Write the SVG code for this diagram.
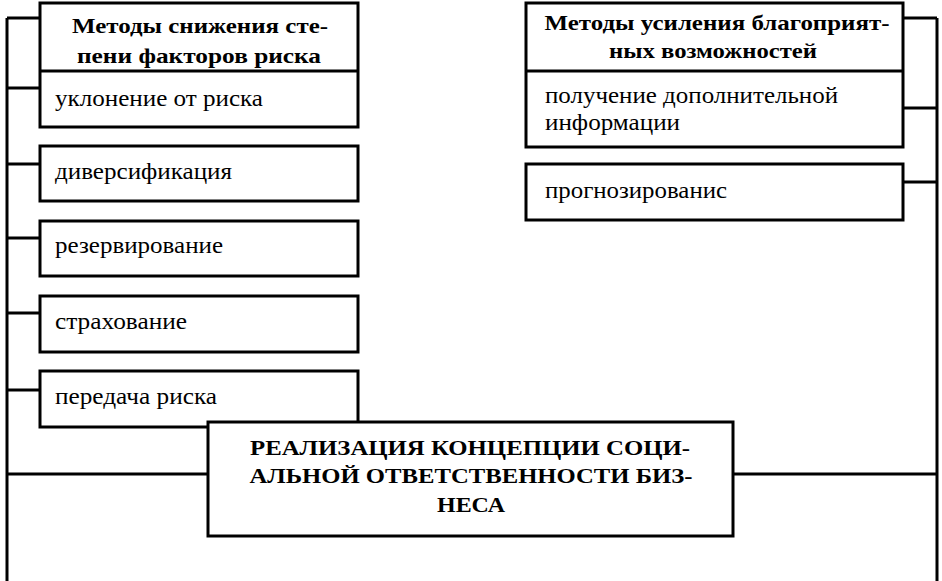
<svg xmlns="http://www.w3.org/2000/svg" width="942" height="581" viewBox="0 0 942 581">
<style>
.box{fill:#fff;stroke:#000;stroke-width:3}
.ln{fill:none;stroke:#000;stroke-width:3}
text{font-family:"Liberation Serif","Times New Roman","DejaVu Serif",serif}
.h{font-weight:bold;font-size:22px;text-anchor:middle}
.t{font-size:24px}
.c{font-weight:bold;font-size:22px;text-anchor:middle}
</style>
<rect width="942" height="581" fill="#fff"/>
<g id="connectors" class="ln">
<path d="M7,18 V581 M7,18 H40 M7,88 H40 M7,164 H40 M7,238 H40 M7,313 H40 M7,390 H40 M7,474 H208"/>
<path d="M937,18 V581 M903,18 H937 M903,108 H937 M903,182 H937 M733,474 H937"/>
</g>
<g id="left-group">
<rect class="box" x="40" y="3" width="318" height="124"/>
<line class="ln" x1="40" y1="71" x2="358" y2="71"/>
<text class="h" x="200" y="33" textLength="256" lengthAdjust="spacingAndGlyphs">Методы снижения сте-</text>
<text class="h" x="199" y="63" textLength="244" lengthAdjust="spacingAndGlyphs">пени факторов риска</text>
<text class="t" x="55" y="106" textLength="208" lengthAdjust="spacingAndGlyphs">уклонение от риска</text>
</g>
<g id="n-div"><rect class="box" x="40" y="146" width="318" height="55"/><text class="t" x="55" y="179" textLength="177" lengthAdjust="spacingAndGlyphs">диверсификация</text></g>
<g id="n-res"><rect class="box" x="40" y="221" width="318" height="55"/><text class="t" x="55" y="253" textLength="168" lengthAdjust="spacingAndGlyphs">резервирование</text></g>
<g id="n-ins"><rect class="box" x="40" y="296" width="318" height="56"/><text class="t" x="55" y="329" textLength="132" lengthAdjust="spacingAndGlyphs">страхование</text></g>
<g id="n-trans"><rect class="box" x="40" y="371" width="318" height="56"/><text class="t" x="55" y="404" textLength="162" lengthAdjust="spacingAndGlyphs">передача риска</text></g>
<g id="right-group">
<rect class="box" x="526" y="3" width="377" height="144"/>
<line class="ln" x1="526" y1="71" x2="903" y2="71"/>
<text class="h" x="717" y="30" textLength="345" lengthAdjust="spacingAndGlyphs">Методы усиления благоприят-</text>
<text class="h" x="713" y="58" textLength="208" lengthAdjust="spacingAndGlyphs">ных возможностей</text>
<text class="t" x="545" y="103" textLength="293" lengthAdjust="spacingAndGlyphs">получение дополнительной</text>
<text class="t" x="545" y="130" textLength="135" lengthAdjust="spacingAndGlyphs">информации</text>
</g>
<g id="n-prog"><rect class="box" x="526" y="164" width="377" height="56"/><text class="t" x="545" y="198" textLength="182" lengthAdjust="spacingAndGlyphs">прогнозированис</text></g>
<g id="center">
<rect class="box" x="208" y="422" width="525" height="114"/>
<text class="c" x="470" y="455" textLength="440" lengthAdjust="spacingAndGlyphs">РЕАЛИЗАЦИЯ КОНЦЕПЦИИ СОЦИ-</text>
<text class="c" x="471" y="483" textLength="443" lengthAdjust="spacingAndGlyphs">АЛЬНОЙ ОТВЕТСТВЕННОСТИ БИЗ-</text>
<text class="c" x="471" y="512" textLength="68" lengthAdjust="spacingAndGlyphs">НЕСА</text>
</g>
</svg>
